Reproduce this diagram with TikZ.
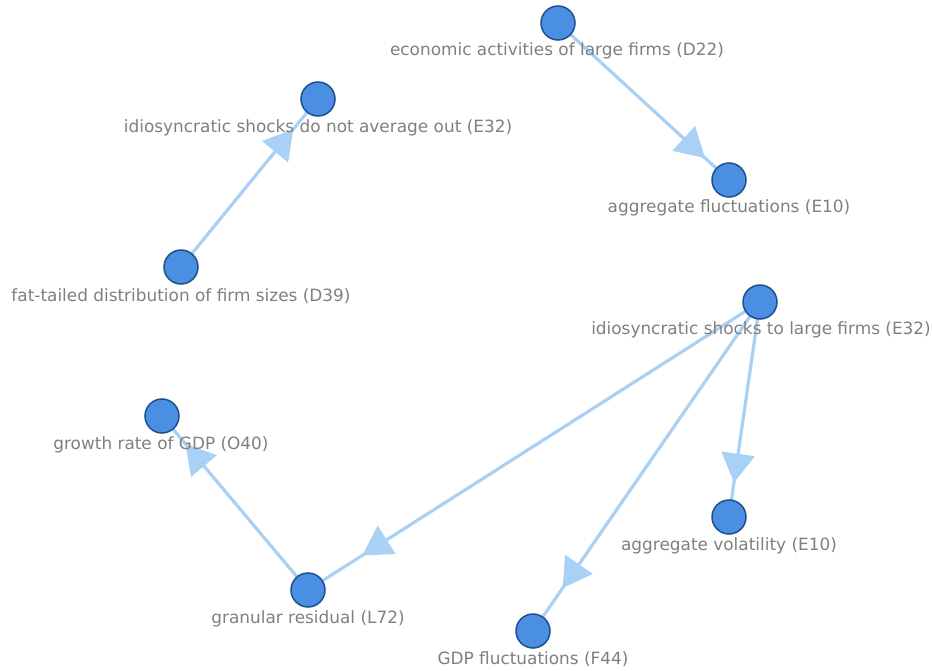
\documentclass[tikz,border=0pt]{standalone}
\usepackage{fontspec}
\setmainfont{DejaVu Sans}
\usetikzlibrary{arrows.meta,decorations.markings,backgrounds}
\definecolor{nodefill}{HTML}{4A8FE2}
\definecolor{nodeline}{HTML}{1E4F8F}
\definecolor{edgecol}{HTML}{A9D1F5}
\definecolor{txt}{HTML}{7F7F7F}
\tikzset{
  vert/.style={circle, minimum size=34pt, inner sep=0pt, fill=nodefill, draw=nodeline, line width=1.5pt},
  lbl/.style={text=txt, font=\fontsize{16.9}{19}\selectfont, inner sep=0pt},
  edge/.style={draw=edgecol, line width=3.2pt},
  tipat/.style={postaction={decorate, decoration={markings, mark=at position #1 with {\arrow[edgecol]{Triangle[length=29pt,width=33pt]}}}}}
}
\begin{document}
\begin{tikzpicture}[x=1pt,y=-1pt]
\useasboundingbox (0,0) rectangle (932,671);
\node[vert] (d22) at (558,23) {};
\node[vert] (e32a) at (318,99) {};
\node[vert] (e10a) at (729,180) {};
\node[vert] (d39) at (181,267) {};
\node[vert] (e32b) at (760,302) {};
\node[vert] (o40) at (162,416) {};
\node[vert] (e10b) at (729,517) {};
\node[vert] (l72) at (308,590) {};
\node[vert] (f44) at (533,631) {};
\node[lbl] (d22l) at (557,51) {economic activities of large firms (D22)};
\node[lbl] (e32al) at (318,128) {idiosyncratic shocks do not average out (E32)};
\node[lbl] (e10al) at (729,208) {aggregate fluctuations (E10)};
\node[lbl] (d39l) at (181,296) {fat-tailed distribution of firm sizes (D39)};
\node[lbl] (e32bl) at (761,330) {idiosyncratic shocks to large firms (E32)};
\node[lbl] (o40l) at (161,445) {growth rate of GDP (O40)};
\node[lbl] (e10bl) at (729,546) {aggregate volatility (E10)};
\node[lbl] (l72l) at (308,619) {granular residual (L72)};
\node[lbl] (f44l) at (533,659) {GDP fluctuations (F44)};
\begin{scope}[on background layer]
\draw[edge, tipat=0.86] (d22.center) -- (e10a.center);
\draw[edge, tipat=0.82] (d39.center) -- (e32a.center);
\draw[edge, tipat=0.84] (e32b.center) -- (e10b.center);
\draw[edge, tipat=0.87] (e32b.center) -- (f44.center);
\draw[edge, tipat=0.88] (e32b.center) -- (l72.center);
\draw[edge, tipat=0.84] (l72.center) -- (o40.center);
\end{scope}
\end{tikzpicture}
\end{document}
